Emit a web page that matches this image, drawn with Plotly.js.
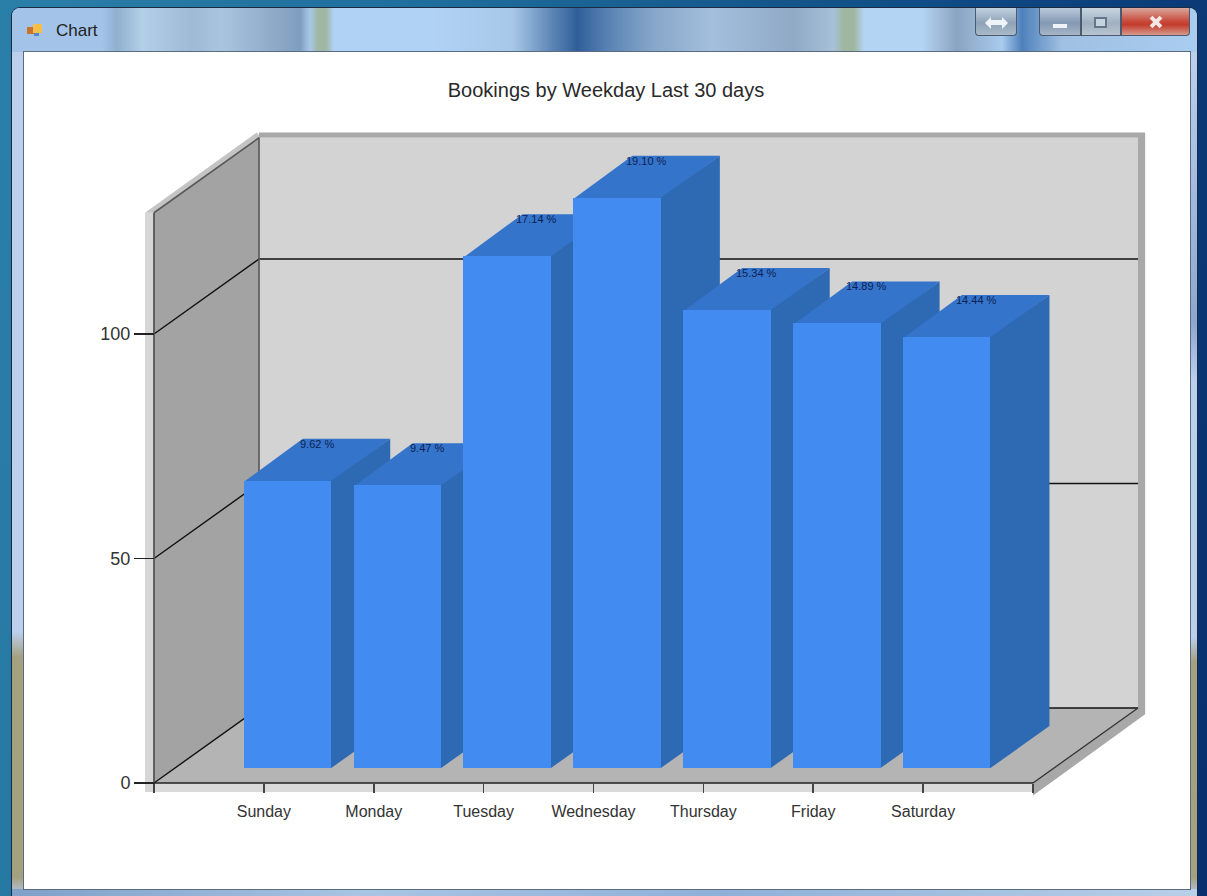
<!DOCTYPE html>
<html>
<head>
<meta charset="utf-8">
<script src="https://cdn.plot.ly/plotly-3.0.1.min.js"></script>
<style>
html,body{margin:0;padding:0;width:1207px;height:896px;overflow:hidden;
  background:linear-gradient(100deg,#2a7fa8 0%,#1f6f9c 30%,#0f4a84 70%,#082f6e 100%);}
.abs{position:absolute;}
#frame{left:12px;top:8px;width:1185px;height:888px;border-radius:8px 8px 0 0;background:#a9cdf1;box-shadow:0 0 0 1px #1a2a44;overflow:hidden;}
#cap{left:0;top:0;width:1185px;height:44px;
 background:linear-gradient(90deg,#a3c4e8 0,#a3c4e8 90px,#8fb0cf 105px,#b4cfe8 130px,#9dbad6 180px,#a9c4de 210px,#8aa6c4 270px,#7f9ebf 288px,#a8c8ea 298px,#9fb7a4 306px,#9fb7a4 314px,#b0d2f5 322px,#b0d2f5 420px,#a8c8e8 500px,#5d86b6 540px,#2f5f9a 565px,#5d86b6 600px,#86a6c8 640px,#a4bfdd 700px,#8fa9c6 780px,#a7c0d6 822px,#9fb7a0 832px,#9fb7a0 842px,#b4d4f4 852px,#b4d4f4 910px,#8aa4c0 945px,#a9cbee 990px,#4f80bb 1010px,#9fc0e2 1050px,#a9cdf1 1185px);}
#lb{left:0;top:44px;width:12px;height:844px;background:linear-gradient(180deg,#bcd0ee 0,#bcd0ee 580px,#a3a17f 605px,#a3a17f 825px,#b9c8ea 844px);}
#rb{right:0;top:44px;width:7px;height:844px;background:linear-gradient(180deg,#bcd0ee 0,#8fa6d0 270px,#bcd0ee 330px,#bcd0ee 585px,#a3a17f 610px,#a3a17f 825px,#b9c8ea 844px);}
#bb{left:0;top:881px;width:1185px;height:7px;background:linear-gradient(90deg,#7fa0c8,#a9c4e4 30%,#8fb0d8 60%,#b8cfe8);}
#client{left:24px;top:52px;width:1166px;height:837px;background:#fff;box-shadow:0 0 0 1px #5a6a80;}
.btn{top:8px;height:28px;border:1px solid #4b5a6e;border-top:none;box-sizing:border-box;}
#b1{left:975px;width:42px;border-radius:0 0 4px 4px;background:linear-gradient(180deg,#c3d2e0,#8ea3b8 55%,#a9bac8);}
#b2{left:1039px;width:42px;border-radius:0 0 0 4px;background:linear-gradient(180deg,#b9cbdc,#8398b3 55%,#a6b6c6);}
#b3{left:1081px;width:40px;background:linear-gradient(180deg,#c8d6e2,#a0b0c0 55%,#b8c4d0);}
#b4{left:1121px;width:69px;border-radius:0 0 4px 0;background:linear-gradient(180deg,#d9a79c,#c8483a 50%,#c33c2c 62%,#d79a8c);}
.g1{left:989px;top:20px;width:15px;height:5px;background:#eef3f8;}
.ga{top:17px;width:0;height:0;border-top:6px solid transparent;border-bottom:6px solid transparent;}
.gl{left:985px;border-right:6px solid #eef3f8;}
.gr{left:1002px;border-left:6px solid #eef3f8;}
.g2{left:1053px;top:24px;width:14px;height:4px;background:#eef3f8;}
.g3{left:1094px;top:17px;width:13px;height:11px;border:2px solid #65758a;box-sizing:border-box;background:#c6d3df;}
.gx{left:1149px;top:20px;width:14px;height:4px;background:#f4e8e4;}
.i1{left:27px;top:27px;width:7px;height:7px;background:#c8742c;}
.i2{left:33px;top:24px;width:9px;height:9px;background:#f2c04a;}
.i3{left:34px;top:33px;width:5px;height:3px;background:#5a86c6;}
#plot{left:0;top:0;width:1207px;height:896px;}
</style>
</head>
<body>
<div class="abs" id="frame">
  <div class="abs" id="cap"></div><div class="abs" id="lb"></div><div class="abs" id="rb"></div><div class="abs" id="bb"></div>
</div>
<div class="abs" id="client"></div>
<div class="abs btn" id="b1"></div><div class="abs btn" id="b2"></div><div class="abs btn" id="b3"></div><div class="abs btn" id="b4"></div>
<div class="abs g1"></div><div class="abs ga gl"></div><div class="abs ga gr"></div><div class="abs g2"></div><div class="abs g3"></div>
<div class="abs gx" style="transform:rotate(45deg)"></div><div class="abs gx" style="transform:rotate(-45deg)"></div>
<div class="abs i1"></div><div class="abs i2"></div><div class="abs i3"></div>
<div class="abs" id="plot"></div>
<script>
const categories = ["Sunday","Monday","Tuesday","Wednesday","Thursday","Friday","Saturday"];
const bookings = [64,63,114,127,102,99,96];
const percentLabels = ["9.62 %","9.47 %","17.14 %","19.10 %","15.34 %","14.89 %","14.44 %"];
const yTicks = [0,50,100];
const chartTitle = "Bookings by Weekday Last 30 days";

const W=1207,H=896,X0=154,Y0=783,XS=109.875,YS=4.49;
const dx=v=>(v-X0)/XS, dy=v=>(Y0-v)/YS;               // pixel -> data helpers for the 3D box frame
const DX=105/XS, DY=75/YS, XMAX=8, YTOP=127;           // full depth of the box, in axis units
const BAR_W=87.5/XS, BAR_SHIFT=23.6/XS, BAR_BASE=15/YS, BD_X=59/XS, BD_Y=42/YS;

const shapes=[];
function poly(pts,fill,line,lw){
  shapes.push({type:'path',xref:'x',yref:'y',layer:'below',
    path:'M '+pts.map(p=>p[0]+' '+p[1]).join(' L ')+(fill?' Z':''),
    fillcolor:fill||'rgba(0,0,0,0)',line:{color:line||'rgba(0,0,0,0)',width:line?(lw||1):0}});
}
// box: outer edge strips
poly([[dx(145),dy(792)],[dx(1033),dy(792)],[dx(1033),0],[dx(145),0]],'#dadada');
poly([[dx(145),dy(792)],[dx(155),dy(792)],[dx(155),YTOP],[dx(145),YTOP]],'#d6d6d6');
poly([[dx(145),YTOP],[DX-0.02,YTOP+DY+1.2],[DX+0.02,YTOP+DY],[dx(156),YTOP]],'#c4c4c4');
poly([[DX,YTOP+DY+1.2],[XMAX+DX+0.065,YTOP+DY+1.2],[XMAX+DX+0.065,DY-1.4],[XMAX,-2.8],[XMAX,0],[XMAX+DX,DY],[XMAX+DX,YTOP+DY],[DX,YTOP+DY]],'#a8a8a8');
poly([[DX,YTOP+DY],[XMAX+DX,YTOP+DY],[XMAX+DX,DY],[DX,DY]],'#d3d3d3');                       // back wall
poly([[0,0],[DX,DY],[DX,YTOP+DY],[0,YTOP]],'#a3a3a3');                                        // side wall
poly([[0,0],[XMAX,0],[XMAX+DX,DY],[DX,DY]],'#b4b4b4');                                        // floor
// grid lines, wall edges
yTicks.forEach(v=>poly([[0,v],[DX,v+DY],[XMAX+DX,v+DY]],null,'#111111',1.4));
poly([[0,YTOP],[DX,YTOP+DY]],null,'#5a5a5a',1.6);
poly([[DX,DY],[DX,YTOP+DY]],null,'#555555',1.6);
poly([[0,dy(792)],[0,YTOP]],null,'#555555',1.8);
poly([[XMAX,0],[XMAX+DX,DY]],null,'#333333',1.3);
poly([[0,0],[XMAX,0]],null,'#222222',1.4);
// side and top faces of the bars (painted left to right, fronts are the bar trace on top)
bookings.forEach((v,i)=>{
  const c=i+1, l=c+BAR_SHIFT-BAR_W/2, r=c+BAR_SHIFT+BAR_W/2, b=BAR_BASE, t=BAR_BASE+v;
  poly([[l,t-0.3],[r,t-0.3],[r+BD_X,t+BD_Y],[l+BD_X,t+BD_Y]],'#3574cb');
  poly([[r-0.015,b],[r,b],[r+BD_X,b+BD_Y],[r+BD_X,t+BD_Y],[r,t],[r-0.015,t]],'#2e69b4');
});

const annotations = bookings.map((v,i)=>({
  xref:'x',yref:'y',x:i+1+BAR_SHIFT+29.5/XS,y:BAR_BASE+v+37/YS,text:percentLabels[i],showarrow:false,
  xanchor:'center',yanchor:'middle',font:{family:'Liberation Sans, Arial, sans-serif',size:11,color:'#0c1f55'}
}));
annotations.push({xref:'paper',yref:'paper',x:54/W,y:1-30/H,text:'Chart',showarrow:false,xanchor:'left',yanchor:'middle',
  font:{family:'Liberation Sans, Arial, sans-serif',size:17,color:'#222222'}});

const trace={type:'bar',x:categories.map((c,i)=>i+1+BAR_SHIFT),y:bookings,base:BAR_BASE,width:BAR_W,
  marker:{color:'#428bf0',line:{width:0}},hoverinfo:'skip',name:'Bookings',showlegend:false};

const layout={
  width:W,height:H,margin:{l:0,r:0,t:0,b:0,pad:0},autosize:false,showlegend:false,
  paper_bgcolor:'rgba(0,0,0,0)',plot_bgcolor:'rgba(0,0,0,0)',
  title:{text:chartTitle,x:606/W,xanchor:'center',y:1-90/H,yanchor:'middle',
    font:{family:'Liberation Sans, Arial, sans-serif',size:20,color:'#2a2a2a'}},
  xaxis:{range:[dx(0),dx(W)],anchor:'free',position:(H-Y0)/H,showgrid:false,zeroline:false,showline:false,
    tickmode:'array',tickvals:[0,1,2,3,4,5,6,7,8],ticktext:['',...categories,''],
    ticks:'outside',ticklen:9,tickwidth:1.6,tickcolor:'#444',ticklabelstandoff:5,
    tickfont:{family:'Liberation Sans, Arial, sans-serif',size:16,color:'#333'},fixedrange:true},
  yaxis:{range:[dy(H),dy(0)],anchor:'free',position:X0/W,showgrid:false,zeroline:false,showline:false,
    tickmode:'array',tickvals:yTicks,ticktext:yTicks.map(String),
    ticks:'outside',ticklen:20,tickwidth:1.4,tickcolor:'#222',ticklabelstandoff:0,
    tickfont:{family:'Liberation Sans, Arial, sans-serif',size:18,color:'#333'},fixedrange:true},
  shapes,annotations,bargap:0,hovermode:false
};
Plotly.newPlot('plot',[trace],layout,{displayModeBar:false,staticPlot:true});
</script>
</body>
</html>
